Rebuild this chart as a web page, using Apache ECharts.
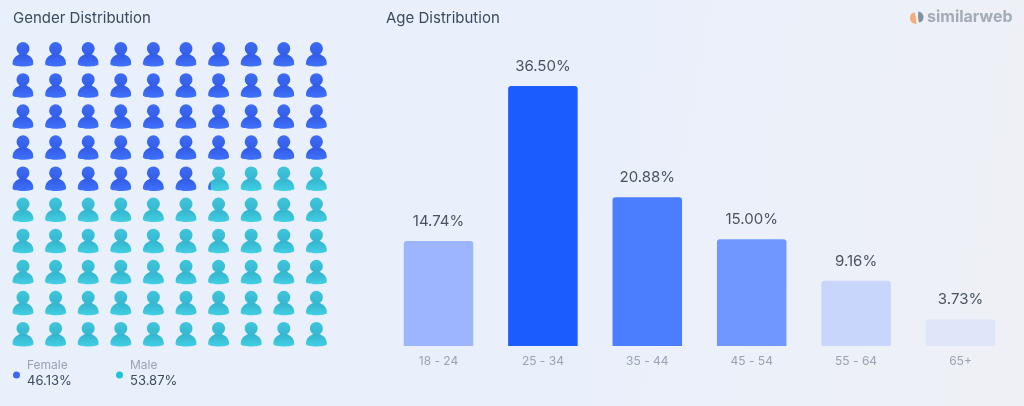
<!DOCTYPE html>
<html>
<head>
<meta charset="utf-8">
<title>Gender and Age Distribution</title>
<style>
  html, body { margin: 0; width: 1024px; height: 406px; overflow: hidden; }
  body { background: linear-gradient(100deg, #e8f0fc 0%, #eaf0fb 60%, #eef0f5 100%); }
  #chart { width: 1024px; height: 406px; }
</style>
<script src="https://cdn.jsdelivr.net/npm/echarts@6/dist/echarts.min.js"></script>
</head>
<body>
<div id="chart"></div>
<script>
// data
const genderNames = ['Female', 'Male'];
const genderShares = [46.13, 53.87];
const ageGroups = ['18 - 24', '25 - 34', '35 - 44', '45 - 54', '55 - 64', '65+'];
const ageShares = [14.74, 36.5, 20.88, 15.0, 9.16, 3.73];

const ageColors = ['#9db5fc', '#1a5cff', '#4a7dff', '#7097fd', '#c9d6fb', '#dfe6fa'];
const font = 'Inter, Roboto, sans-serif';
const ink = '#3b4a5e';
const labelInk = '#4a5260';
const muted = '#9aa3b1';

// one person on a 10 x 10 board, one icon = 1 %
const headPath = 'M10.5 0A6.5 6.5 0 1 1 10.49 0Z';
const bodyPath = 'M7.5 11.5L13.5 11.5C14.5 12.8 15.8 13.1 17.2 14C19.6 15.6 21 18.6 21 22C21 23.6 16 24.5 10.5 24.5C5 24.5 0 23.6 0 22C0 18.6 1.4 15.6 3.8 14C5.2 13.1 6.5 12.8 7.5 11.5Z';
const personPath = headPath + bodyPath;
const iconW = 21;
const iconH = 24.5;

const femaleFill = {
  type: 'linear', x: 0, y: 0, x2: 0, y2: 1,
  colorStops: [
    { offset: 0, color: '#3f6cf2' },
    { offset: 0.55, color: '#335de8' },
    { offset: 1, color: '#4072fb' }
  ]
};
const maleFill = {
  type: 'linear', x: 0, y: 0, x2: 0, y2: 1,
  colorStops: [
    { offset: 0, color: '#40c6dc' },
    { offset: 0.55, color: '#35b7d0' },
    { offset: 1, color: '#42d0e3' }
  ]
};

const cells = [];
for (let row = 0; row < 10; row++) {
  for (let col = 0; col < 10; col++) {
    const left = genderShares[0] - (row * 10 + col);
    cells.push([col, row, Math.max(0, Math.min(1, left))]);
  }
}

function renderPerson(params, api) {
  const p = api.coord([api.value(0), api.value(1)]);
  const x = p[0] - iconW / 2;
  const y = p[1] - iconH / 2;
  const part = api.value(2);
  const shape = { pathData: personPath, x, y, width: iconW, height: iconH, layout: 'cover' };
  const children = [];
  if (part < 1) {
    children.push({ type: 'path', shape, style: { fill: maleFill } });
  }
  if (part > 0) {
    children.push({
      type: 'path',
      shape,
      style: { fill: femaleFill },
      clipPath: { type: 'rect', shape: { x: x - 1, y: y - 1, width: iconW * part + 1, height: iconH + 2 } }
    });
  }
  return { type: 'group', children };
}

function text(x, y, str, size, fill, weight) {
  return { type: 'text', x, y, style: { text: str, font: (weight || 400) + ' ' + size + 'px ' + font, fill } };
}

const legendX = [27, 130];
const legendDot = ['#3a66f5', '#1fc4dc'];
const legendItems = [];
genderNames.forEach((name, i) => {
  legendItems.push({ type: 'circle', shape: { cx: legendX[i] - 10.5, cy: 375, r: 3.5 }, style: { fill: legendDot[i] } });
  legendItems.push(text(legendX[i], 359, name, 12, muted));
  legendItems.push(text(legendX[i], 375, genderShares[i].toFixed(2) + '%', 13, ink));
});

const chart = echarts.init(document.getElementById('chart'));
chart.setOption({
  animation: false,
  textStyle: { fontFamily: font },
  grid: [
    { left: 6.7, top: 38.75, width: 326, height: 311 },
    { left: 386.3, top: 61.1, width: 626.4, height: 284.9 }
  ],
  xAxis: [
    { gridIndex: 0, type: 'value', min: -0.5, max: 9.5, show: false },
    {
      gridIndex: 1,
      type: 'category',
      data: ageGroups,
      axisLine: { show: false },
      axisTick: { show: false },
      axisLabel: { color: muted, fontSize: 12, margin: 9 }
    }
  ],
  yAxis: [
    { gridIndex: 0, type: 'value', min: -0.5, max: 9.5, inverse: true, show: false },
    { gridIndex: 1, type: 'value', min: 0, max: 40, show: false }
  ],
  series: [
    {
      type: 'custom',
      xAxisIndex: 0,
      yAxisIndex: 0,
      renderItem: renderPerson,
      data: cells,
      clip: false
    },
    {
      type: 'bar',
      xAxisIndex: 1,
      yAxisIndex: 1,
      barWidth: 69.5,
      data: ageShares.map((v, i) => ({ value: v, itemStyle: { color: ageColors[i] } })),
      itemStyle: { borderRadius: [3, 3, 0, 0] },
      label: {
        show: true,
        position: 'top',
        distance: 12,
        color: labelInk,
        fontSize: 15,
        formatter: p => p.value.toFixed(2) + '%'
      }
    }
  ],
  graphic: [
    text(13, 11, 'Gender Distribution', 15, ink),
    text(386, 11, 'Age Distribution', 15, ink),
    ...legendItems,
    { type: 'sector', shape: { cx: 916, cy: 18, r: 6, r0: 0, startAngle: 1.5, endAngle: 4.5 }, style: { fill: '#f3ad7f' } },
    { type: 'sector', shape: { cx: 918, cy: 17, r: 5.5, r0: 0, startAngle: -1.5, endAngle: 1.4 }, style: { fill: '#84909d' } },
    text(927, 9, 'similarweb', 16, '#a3abb6', 700)
  ]
});
</script>
</body>
</html>
